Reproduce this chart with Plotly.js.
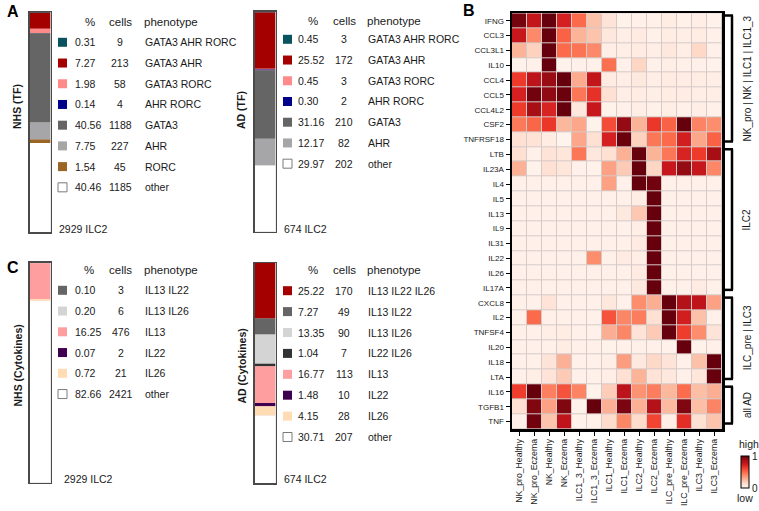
<!DOCTYPE html>
<html><head><meta charset="utf-8">
<script src="https://cdn.plot.ly/plotly-3.0.1.min.js"></script>
<style>html,body{margin:0;padding:0;background:#fff}#chart{width:759px;height:511px}</style>
</head><body><div id="chart"></div>
<script>
// ---------------- DATA ----------------
// Panel A (transcription factors)
const tfNhsPct   = [0.31, 7.27, 1.98, 0.14, 40.56, 7.75, 1.54, 40.46];
const tfNhsCells = [9, 213, 58, 4, 1188, 227, 45, 1185];
const tfNhsPhen  = ["GATA3 AHR RORC","GATA3 AHR","GATA3 RORC","AHR RORC","GATA3","AHR","RORC","other"];
const tfNhsTotal = "2929 ILC2";

const tfAdPct   = [0.45, 25.52, 0.45, 0.30, 31.16, 12.17, 29.97];
const tfAdCells = [3, 172, 3, 2, 210, 82, 202];
const tfAdPhen  = ["GATA3 AHR RORC","GATA3 AHR","GATA3 RORC","AHR RORC","GATA3","AHR","other"];
const tfAdTotal = "674 ILC2";

// Panel C (cytokines)
const cyNhsPct   = [0.10, 0.20, 16.25, 0.07, 0.72, 82.66];
const cyNhsCells = [3, 6, 476, 2, 21, 2421];
const cyNhsPhen  = ["IL13 IL22","IL13 IL26","IL13","IL22","IL26","other"];
const cyNhsTotal = "2929 ILC2";

const cyAdPct   = [25.22, 7.27, 13.35, 1.04, 16.77, 1.48, 4.15, 30.71];
const cyAdCells = [170, 49, 90, 7, 113, 10, 28, 207];
const cyAdPhen  = ["IL13 IL22 IL26","IL13 IL22","IL13 IL26","IL22 IL26","IL13","IL22","IL26","other"];
const cyAdTotal = "674 ILC2";

// Panel B heatmap
const hmColumns = ["NK_pro_Healthy","NK_pro_Eczema","NK_Healthy","NK_Eczema","ILC1_3_Healthy","ILC1_3_Eczema",
  "ILC1_Healthy","ILC1_Eczema","ILC2_Healthy","ILC2_Eczema","ILC_pre_Healthy","ILC_pre_Eczema","ILC3_Healthy","ILC3_Eczema"];
const hmGenes = ["IFNG","CCL3","CCL3L1","IL10","CCL4","CCL5","CCL4L2","CSF2","TNFRSF18","LTB","IL23A","IL4","IL5",
  "IL13","IL9","IL31","IL22","IL26","IL17A","CXCL8","IL2","TNFSF4","IL20","IL18","LTA","IL16","TGFB1","TNF"];
const hmValues = [
  [0.97,0.78,1.00,0.72,0.50,0.23,0.10,0.02,0.03,0.03,0.05,0.03,0.04,0.02],
  [0.77,0.40,1.00,0.52,0.27,0.22,0.08,0.04,0.06,0.03,0.05,0.04,0.05,0.03],
  [0.27,0.17,1.00,0.50,0.47,0.40,0.04,0.04,0.06,0.04,0.08,0.04,0.15,0.03],
  [0.02,0.03,1.00,0.02,0.03,0.03,0.48,0.03,0.16,0.03,0.04,0.03,0.03,0.02],
  [0.63,0.80,0.90,1.00,0.30,0.78,0.06,0.04,0.07,0.04,0.06,0.05,0.05,0.04],
  [0.72,0.98,0.92,0.99,0.46,0.66,0.12,0.04,0.05,0.04,0.05,0.05,0.04,0.04],
  [0.63,0.87,0.71,1.00,0.08,0.76,0.02,0.03,0.04,0.03,0.04,0.03,0.04,0.03],
  [0.45,0.51,0.64,0.26,0.31,0.02,0.58,0.91,0.27,0.64,0.52,1.00,0.42,0.39],
  [0.12,0.11,0.05,0.01,0.31,0.12,0.72,0.99,0.17,0.46,0.50,0.73,0.31,0.52],
  [0.12,0.03,0.10,0.09,0.46,0.08,0.12,0.28,1.00,0.27,0.46,0.71,0.63,0.87],
  [0.28,0.02,0.12,0.09,0.03,0.02,0.33,0.20,1.00,0.16,0.76,0.91,0.77,0.41],
  [0.03,0.03,0.03,0.03,0.03,0.03,0.33,0.03,1.00,0.98,0.03,0.03,0.03,0.03],
  [0.03,0.03,0.03,0.03,0.03,0.03,0.03,0.03,0.05,1.00,0.03,0.03,0.03,0.03],
  [0.03,0.03,0.03,0.03,0.03,0.03,0.03,0.07,0.21,1.00,0.03,0.03,0.03,0.03],
  [0.03,0.03,0.03,0.03,0.03,0.03,0.03,0.03,0.04,1.00,0.03,0.03,0.03,0.03],
  [0.03,0.03,0.03,0.03,0.03,0.03,0.03,0.03,0.06,1.00,0.03,0.03,0.03,0.03],
  [0.03,0.03,0.03,0.03,0.03,0.39,0.03,0.06,0.04,1.00,0.03,0.03,0.03,0.03],
  [0.03,0.03,0.03,0.03,0.03,0.03,0.03,0.03,0.06,1.00,0.03,0.03,0.03,0.03],
  [0.03,0.03,0.03,0.03,0.03,0.03,0.03,0.03,0.07,1.00,0.03,0.03,0.06,0.03],
  [0.03,0.03,0.10,0.03,0.03,0.03,0.08,0.03,0.39,0.29,1.00,0.83,0.79,0.33],
  [0.03,0.50,0.03,0.03,0.03,0.03,0.56,0.41,0.44,0.12,1.00,0.73,0.23,0.03],
  [0.03,0.03,0.04,0.05,0.03,0.03,0.29,0.41,0.10,0.20,1.00,0.62,0.39,0.10],
  [0.03,0.03,0.03,0.05,0.03,0.03,0.02,0.03,0.03,0.03,0.02,1.00,0.02,0.03],
  [0.03,0.03,0.10,0.28,0.03,0.03,0.04,0.34,0.07,0.15,0.10,0.03,0.23,1.00],
  [0.03,0.04,0.10,0.20,0.03,0.03,0.04,0.12,0.27,0.11,0.08,0.03,0.09,1.00],
  [0.62,1.00,0.43,0.56,0.42,0.02,0.19,0.80,0.37,0.44,0.26,0.49,0.24,0.29],
  [0.12,0.95,0.33,0.95,0.02,1.00,0.28,0.96,0.28,0.83,0.25,0.95,0.24,0.42],
  [0.03,0.98,0.22,0.79,0.02,0.03,0.14,0.41,0.14,0.60,0.04,0.67,0.12,0.22]
];
const hmGroupLabels = ["NK_pro | NK | ILC1 | ILC1_3","ILC2","ILC_pre | ILC3","all AD"];
const hmGroupFirst  = ["IFNG","LTB","CXCL8","IL16"];
const hmGroupLast   = ["TNFRSF18","IL17A","LTA","TNF"];

// ---------------- STYLES ----------------
const phenColor = {
  "GATA3 AHR RORC":"#08535f","GATA3 AHR":"#a40000","GATA3 RORC":"#ff8a8a","AHR RORC":"#00008b",
  "GATA3":"#656565","AHR":"#a6a6a8","RORC":"#9b6524","other":"#ffffff",
  "IL13 IL22 IL26":"#a40000","IL13 IL22":"#656565","IL13 IL26":"#d4d4d4","IL22 IL26":"#333333",
  "IL13":"#ff9e9e","IL22":"#400050","IL26":"#ffdcb3"
};
const redsScale = [[0,"#fff5f0"],[0.125,"#fee0d2"],[0.25,"#fcbba1"],[0.375,"#fc9272"],[0.5,"#fb6a4a"],
  [0.625,"#ef3b2c"],[0.75,"#cb181d"],[0.875,"#a50f15"],[1,"#67000d"]];
const FONT = "Liberation Sans, Arial, Helvetica, sans-serif";
const TXT = "#1a1a1a";
const W = 759, H = 511;
const px = x => x / W;
const py = y => 1 - y / H;

const traces = [];
const annotations = [];
const shapes = [];
const layout = {
  width: W, height: H,
  margin: {l:0, r:0, t:0, b:0, autoexpand:false},
  paper_bgcolor: "#fff",
  plot_bgcolor: "#d6cac8",
  font: {family: FONT, color: TXT},
  showlegend: false,
  barmode: "overlay"
};

// ---------------- HEATMAP ----------------
traces.push({
  type: "heatmap", x: hmColumns, y: hmGenes, z: hmValues,
  xaxis: "x", yaxis: "y",
  colorscale: redsScale, zmin: 0, zmax: 1, xgap: 1, ygap: 1,
  hoverinfo: "x+y+z",
  colorbar: {
    x: px(741), xanchor: "left", xpad: 0,
    y: py(456), yanchor: "top", ypad: 0,
    len: 32, lenmode: "pixels", thickness: 8, thicknessmode: "pixels",
    outlinewidth: 1, outlinecolor: "#000",
    tickvals: [0, 1], ticktext: ["0", "1"], ticks: "",
    tickfont: {size: 10, family: FONT, color: TXT}
  }
});
layout.xaxis = {
  domain: [px(512), px(722)], anchor: "y", type: "category",
  tickangle: -90, ticks: "outside", ticklen: 4, tickwidth: 1, tickcolor: "#000",
  tickfont: {size: 8.7, family: FONT, color: TXT},
  showline: true, mirror: true, linewidth: 2.5, linecolor: "#000",
  showgrid: false, zeroline: false, fixedrange: true
};
layout.yaxis = {
  domain: [py(429), py(13.3)], anchor: "x", type: "category", autorange: "reversed",
  ticks: "outside", ticklen: 4, tickwidth: 1, tickcolor: "#000",
  tickfont: {size: 8, family: FONT, color: TXT},
  showline: true, mirror: true, linewidth: 2.5, linecolor: "#000",
  showgrid: false, zeroline: false, fixedrange: true
};

// group brackets
hmGroupLabels.forEach((lab, i) => {
  const a = hmGenes.indexOf(hmGroupFirst[i]) - 0.5 + 0.15;
  const b = hmGenes.indexOf(hmGroupLast[i]) + 0.5 - 0.37;
  const ln = {color: "#000", width: 2.5};
  shapes.push({type:"line", xref:"paper", yref:"y", x0:px(723), x1:px(733), y0:a, y1:a, line:ln});
  shapes.push({type:"line", xref:"paper", yref:"y", x0:px(723), x1:px(733), y0:b, y1:b, line:ln});
  shapes.push({type:"line", xref:"paper", yref:"y", x0:px(732), x1:px(732), y0:a, y1:b, line:ln});
  annotations.push({xref:"paper", yref:"y", x:px(747), y:(a+b)/2, text:lab, textangle:-90,
    showarrow:false, xanchor:"center", yanchor:"middle", font:{size:10, family:FONT, color:TXT}});
});
annotations.push({xref:"paper", yref:"paper", x:px(749), y:py(443.5), text:"high", showarrow:false,
  xanchor:"center", yanchor:"middle", font:{size:10.5, family:FONT, color:TXT}});
annotations.push({xref:"paper", yref:"paper", x:px(745), y:py(498), text:"low", showarrow:false,
  xanchor:"center", yanchor:"middle", font:{size:10.5, family:FONT, color:TXT}});

// ---------------- STACKED BARS + LEGEND TABLES ----------------
function panel(n, pct, cells, phen, total, geo) {
  let acc = 0;
  const base = pct.map(v => { const b = acc; acc += v; return b; });
  traces.push({
    type: "bar", x: pct.map(() => "ILC2"), y: pct, base: base, width: 1,
    xaxis: "x" + n, yaxis: "y" + n,
    marker: {color: phen.map(p => phenColor[p]), line: {width: 0}},
    hoverinfo: "y+text", text: phen, textposition: "none"
  });
  layout["xaxis" + n] = {domain:[px(geo.barX0), px(geo.barX1)], anchor:"y"+n, range:[-0.5,0.5],
    showticklabels:false, ticks:"", showgrid:false, zeroline:false,
    showline:true, mirror:true, linewidth:1.5, linecolor:"#4a4a4a", fixedrange:true};
  layout["yaxis" + n] = {domain:[py(geo.barY1), py(geo.barY0)], anchor:"x"+n, range:[100,0],
    showticklabels:false, ticks:"", showgrid:false, zeroline:false,
    showline:true, mirror:true, linewidth:1.5, linecolor:"#4a4a4a", fixedrange:true};

  const f = {family: FONT, color: TXT, size: 10.5};
  const fh = {family: FONT, color: TXT, size: 11.5};
  const ann = (x, y, t, xa, font) => annotations.push({xref:"paper", yref:"paper", x:px(x), y:py(y),
    text:t, showarrow:false, xanchor:xa, yanchor:"middle", font:font});
  ann(geo.pctC, geo.headY, "%", "center", fh);
  ann(geo.cellC, geo.headY, "cells", "center", fh);
  ann(geo.phenX - 1, geo.headY, "phenotype", "left", fh);
  pct.forEach((v, i) => {
    const cy = geo.rowY0 + i * geo.rowStep;
    const col = phenColor[phen[i]];
    shapes.push({type:"rect", xref:"paper", yref:"paper",
      x0:px(geo.sqX), x1:px(geo.sqX + 9), y0:py(cy + 4.5), y1:py(cy - 4.5),
      fillcolor: col, line: col === "#ffffff" ? {color:"#7a7a7a", width:1} : {width:0}});
    ann(geo.valX, cy, v.toFixed(2), "left", f);
    ann(geo.cellC, cy, String(cells[i]), "center", f);
    ann(geo.phenX, cy, phen[i], "left", f);
  });
  ann(geo.totX, geo.totY, total, "left", f);
  annotations.push({xref:"paper", yref:"paper", x:px(geo.labX), y:py(geo.labY), text:"<b>" + geo.label + "</b>",
    textangle:-90, showarrow:false, xanchor:"center", yanchor:"middle", font:{family:FONT, color:TXT, size:10.5}});
}

panel(2, tfNhsPct, tfNhsCells, tfNhsPhen, tfNhsTotal,
  {barX0:29.5, barX1:50.5, barY0:12, barY1:232, sqX:58, valX:72.5, pctC:89.5, cellC:120, phenX:142.5,
   headY:21.7, rowY0:42.3, rowStep:20.72, totX:57, totY:229.3, labX:17, labY:107, label:"NHS (TF)"});
panel(3, tfAdPct, tfAdCells, tfAdPhen, tfAdTotal,
  {barX0:254.5, barX1:275.5, barY0:11.5, barY1:231.5, sqX:283, valX:296, pctC:312.7, cellC:344.3, phenX:365.5,
   headY:21.3, rowY0:39.3, rowStep:20.73, totX:282, totY:229.3, labX:241, labY:110, label:"AD (TF)"});
panel(4, cyNhsPct, cyNhsCells, cyNhsPhen, cyNhsTotal,
  {barX0:29.5, barX1:50.5, barY0:262.5, barY1:482.5, sqX:58, valX:72.5, pctC:89.3, cellC:120.7, phenX:142.5,
   headY:270, rowY0:290.3, rowStep:20.75, totX:61.5, totY:479.3, labX:17.5, labY:366, label:"NHS (Cytokines)"});
panel(5, cyAdPct, cyAdCells, cyAdPhen, cyAdTotal,
  {barX0:254.5, barX1:275.5, barY0:263, barY1:483, sqX:283, valX:296, pctC:312.7, cellC:344.3, phenX:365.5,
   headY:270, rowY0:290.7, rowStep:20.9, totX:282, totY:479.3, labX:241, labY:366.5, label:"AD (Cytokines)"});

// panel letters
[["A", 5, 11], ["B", 461, 10], ["C", 5, 267]].forEach(([t, x, y]) => annotations.push({
  xref:"paper", yref:"paper", x:px(x), y:py(y), text:"<b>" + t + "</b>", showarrow:false,
  xanchor:"left", yanchor:"middle", font:{family:FONT, color:"#000", size:16}}));

layout.annotations = annotations;
layout.shapes = shapes;
Plotly.newPlot("chart", traces, layout, {staticPlot: true, displayModeBar: false});
</script>
</body></html>
